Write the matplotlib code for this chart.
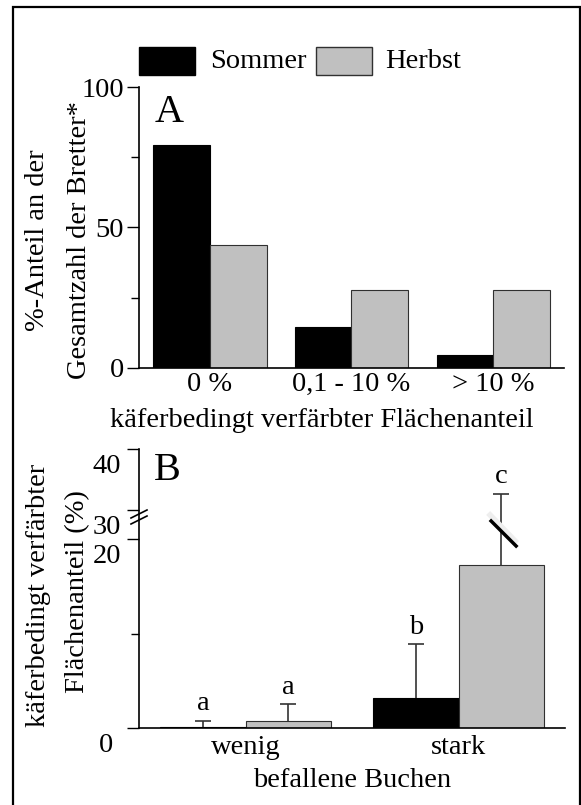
import numpy as np
import matplotlib
matplotlib.use("Agg")
import matplotlib.pyplot as plt
from matplotlib.patches import Rectangle
from matplotlib.lines import Line2D
import matplotlib.transforms as mtransforms

plt.rcParams['font.family'] = ['Liberation Serif', 'DejaVu Serif']
FS = 20.5

# ---------------- data ----------------
# Panel A
catsA = ['0 %', '0,1 - 10 %', '> 10 %']
sommerA = [79.5, 14.6, 4.6]
herbstA = [43.6, 27.7, 27.7]
yticksA = [0, 50, 100]
yminorA = [25, 75]

# Panel B
catsB = ['wenig', 'stark']
sommerB = [0.1, 3.2]
herbstB = [0.77, 17.3]
sommerB_err = [0.7, 5.7]
herbstB_err = [1.77, 15.4]
lettersS = ['a', 'b']
lettersH = ['a', 'c']
yticksB = [0, 20, 30, 40]
yminorB = [10]

series = ['Sommer', 'Herbst']
colors = ['black', '#c0c0c0']
edges = ['black', '#303030']

W, H = 581, 805
fig = plt.figure(figsize=(W / 100, H / 100), dpi=100)


def fx(x):
    return x / W


def fy(y):
    return 1 - y / H


# outer frame
fig.patches.append(Rectangle((fx(12.5), -0.02), fx(580.3) - fx(12.5), fy(7) + 0.02,
                             transform=fig.transFigure, fill=False,
                             edgecolor='black', lw=1.6))

# ---------------- Panel A ----------------
axA = fig.add_axes([fx(139), fy(367.7), fx(564) - fx(139), fy(87.3) - fy(367.7)])
x = np.arange(len(catsA))
w = 0.4
axA.bar(x - w / 2, sommerA, w, color=colors[0], edgecolor=edges[0], lw=0.8)
axA.bar(x + w / 2, herbstA, w, color=colors[1], edgecolor=edges[1], lw=0.8)
axA.set_xlim(-0.5, len(catsA) - 0.5)
axA.set_ylim(0, 100)
axA.set_yticks(yticksA)
axA.set_yticks(yminorA, minor=True)
axA.set_xticks(x)
axA.set_xticklabels(catsA, fontsize=FS)
axA.tick_params(axis='x', length=0, pad=3)
axA.tick_params(axis='y', which='major', length=9, width=1, labelsize=FS, pad=2)
axA.tick_params(axis='y', which='minor', length=6, width=1)
for s in ['top', 'right']:
    axA.spines[s].set_visible(False)
for s in ['left', 'bottom']:
    axA.spines[s].set_linewidth(1.2)
fig.text(fx(169), fy(112.5), 'A', fontsize=29, ha='center', va='center')

fig.text(fx(38), fy(240), '%-Anteil an der', rotation=90,
         fontsize=FS, ha='center', va='center')
fig.text(fx(79), fy(240), 'Gesamtzahl der Bretter*', rotation=90,
         fontsize=FS, ha='center', va='center')
fig.text(fx(110), fy(426.7), 'käferbedingt verfärbter Flächenanteil', fontsize=FS,
         ha='left', va='baseline')

# legend
fig.patches.append(Rectangle((fx(139), fy(75)), fx(195) - fx(139), fy(47.3) - fy(75),
                             transform=fig.transFigure, facecolor=colors[0],
                             edgecolor=edges[0], lw=1))
fig.text(fx(210), fy(61), series[0], fontsize=FS, ha='left', va='center')
fig.patches.append(Rectangle((fx(315.7), fy(75)), fx(371.7) - fx(315.7), fy(47.3) - fy(75),
                             transform=fig.transFigure, facecolor=colors[1],
                             edgecolor=edges[1], lw=1))
fig.text(fx(385), fy(61), series[1], fontsize=FS, ha='left', va='center')

# ---------------- Panel B (broken y scale) ----------------


def fwd(y):
    y = np.asarray(y, float)
    return np.where(y <= 20, y * 9.45,
                    np.where(y <= 30, 189 + (y - 20) * 2.93, 218.3 + (y - 30) * 6.1))


def inv(d):
    d = np.asarray(d, float)
    return np.where(d <= 189, d / 9.45,
                    np.where(d <= 218.3, 20 + (d - 189) / 2.93, 30 + (d - 218.3) / 6.1))


axB = fig.add_axes([fx(139), fy(728.3), fx(565) - fx(139), fy(449) - fy(728.3)])
axB.set_yscale('function', functions=(fwd, inv))
xb = np.arange(len(catsB))
axB.bar(xb - w / 2, sommerB, w, color=colors[0], edgecolor=edges[0], lw=0.8)
axB.bar(xb + w / 2, herbstB, w, color=colors[1], edgecolor=edges[1], lw=0.8)
z = np.zeros(len(catsB))
for xs, vals, errs in ((xb - w / 2, sommerB, sommerB_err), (xb + w / 2, herbstB, herbstB_err)):
    cont = axB.errorbar(xs, vals, yerr=[z, errs], fmt='none', ecolor='#333333',
                        elinewidth=1.2, capsize=6, capthick=1.2)
    caps = cont[1]
    if len(caps) == 2:
        caps[0].remove()  # no cap at the bar top
for xi, v, e, t in zip(xb - w / 2, sommerB, sommerB_err, lettersS):
    axB.annotate(t, (xi, v + e), xytext=(0, 7.5), textcoords='offset points',
                 ha='center', va='baseline', fontsize=FS)
for xi, v, e, t in zip(xb + w / 2, herbstB, herbstB_err, lettersH):
    axB.annotate(t, (xi, v + e), xytext=(0, 7.5), textcoords='offset points',
                 ha='center', va='baseline', fontsize=FS)
axB.set_xlim(-0.5, len(catsB) - 0.5)
axB.set_ylim(0, 40)
axB.set_yticks(yticksB)
axB.set_yticklabels([str(t) for t in yticksB])
axB.set_yticks(yminorB, minor=True)
axB.set_xticks(xb)
axB.set_xticklabels(catsB, fontsize=FS)
axB.tick_params(axis='x', length=0, pad=5)
axB.tick_params(axis='y', which='major', length=9, width=1, labelsize=FS, pad=4)
axB.tick_params(axis='y', which='minor', length=6, width=1)
for s in ['top', 'right']:
    axB.spines[s].set_visible(False)
for s in ['left', 'bottom']:
    axB.spines[s].set_linewidth(1.2)
off = mtransforms.ScaledTranslation(0, -14 / 100, fig.dpi_scale_trans)
off0 = mtransforms.ScaledTranslation(-8 / 100, 0, fig.dpi_scale_trans)
for i, lbl in enumerate(axB.get_yticklabels()):
    t = lbl.get_transform() + off
    if yticksB[i] == 0:
        t = t + off0
    lbl.set_transform(t)

fig.text(fx(167), fy(470), 'B', fontsize=29, ha='center', va='center')
fig.text(fx(39), fy(595), 'käferbedingt verfärbter', rotation=90,
         fontsize=FS, ha='center', va='center')
fig.text(fx(78), fy(592), 'Flächenanteil (%)', rotation=90,
         fontsize=FS, ha='center', va='center')
fig.text(fx(352), fy(786.7), 'befallene Buchen', fontsize=FS, ha='center', va='baseline')

# break marks (decorations) in pixel space
fig.canvas.draw()

# axis break: two short slanted strokes on the y-axis
bx, by = axB.transAxes.transform((0, 0))[0], fy(517) * H
for dy in (3, -3):
    fig.add_artist(Line2D([bx - 8, bx + 8], [by + dy - 4, by + dy + 4],
                          transform=mtransforms.IdentityTransform(), color='black', lw=1.2))
# break on the tall error bar
ex = axB.transData.transform((xb[1] + w / 2, 25))[0]
cy = fy(529) * H
fig.add_artist(Line2D([ex - 11, ex + 14], [cy + 14, cy - 12],
                      transform=mtransforms.IdentityTransform(), color='#eeeeee', lw=4))
fig.add_artist(Line2D([ex - 10, ex + 15], [cy + 8, cy - 17],
                      transform=mtransforms.IdentityTransform(), color='black', lw=2.5))

fig.savefig('out.png', dpi=100)
